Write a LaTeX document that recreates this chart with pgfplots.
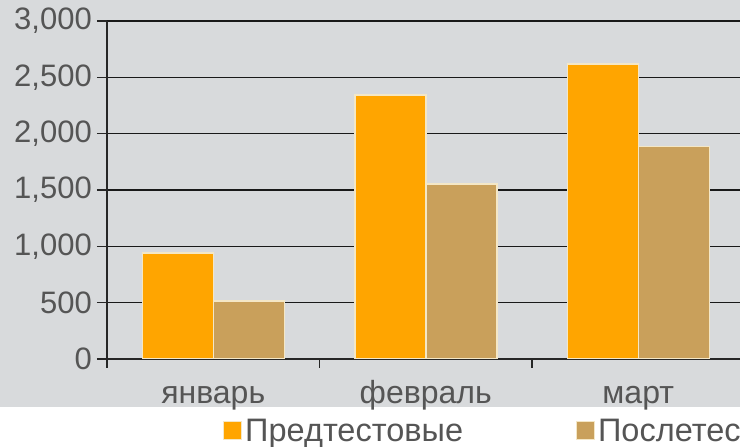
\documentclass[border=0pt]{standalone}
\usepackage{pgfplots}
\pgfplotsset{compat=1.18}
\usepackage{fontspec}
\setmainfont{Liberation Sans}
\definecolor{bg}{HTML}{D8DADC}
\definecolor{bOrange}{HTML}{FFA500}
\definecolor{bTan}{HTML}{C9A05B}
\definecolor{edge}{HTML}{F4E7C6}
\definecolor{txt}{HTML}{555555}
\begin{document}
\begin{tikzpicture}[x=1pt,y=1pt]
\path[use as bounding box] (0,0) rectangle (740,447);
\fill[white] (0,0) rectangle (740,447);
\fill[bg] (0,40) rectangle (740,447);
\begin{scope}
\clip (0,0) rectangle (740,447);
\begin{axis}[
  at={(107pt,88pt)}, anchor=south west,
  width=637.5pt, height=338pt, scale only axis,
  xmin=-0.5, xmax=2.5, ymin=0, ymax=3000,
  axis x line*=bottom, axis y line*=left,
  axis line style={-, draw=black!85, line width=1.5pt},
  ybar=0pt, bar width=71pt,
  ytick={0,500,...,3000}, ymajorgrids,
  grid style={black!90, line width=1.5pt},
  scaled y ticks=false,
  tick align=outside, major tick length=10pt,
  ytick style={draw=black!85, line width=1.5pt},
  yticklabel style={font=\fontsize{31}{36}\selectfont, text=txt, inner sep=0pt, xshift=-5pt,
    /pgf/number format/1000 sep={,}, /pgf/number format/assume math mode=true},
  xtick={0,1,2}, xticklabels={январь,февраль,март},
  xtick style={draw=none},
  xticklabel style={font=\fontsize{32}{36}\selectfont, text=txt, inner sep=0pt, anchor=base, yshift=-35pt},
  extra x ticks={-0.5,0.5,1.5,2.5}, extra x tick labels={},
  extra x tick style={xtick style={draw=black!85, line width=1.5pt}, major tick length=9pt},
  legend style={at={(axis description cs:0.182,-0.213)}, anchor=west, draw=none, fill=none,
    legend columns=2, font=\fontsize{32.5}{36}\selectfont, text=txt, inner sep=0pt,
    /tikz/every even column/.append style={column sep=110pt},
    nodes={inner xsep=3pt, inner ysep=0pt}},
  legend image code/.code={\draw[#1, line width=1pt, draw=edge] (0pt,-9pt) rectangle (18pt,9pt);},
]
\addplot[fill=bOrange, draw=edge, line width=1.5pt] coordinates {(0,940) (1,2345) (2,2620)};
\addplot[fill=bTan, draw=edge, line width=1.5pt] coordinates {(0,515) (1,1555) (2,1885)};
\legend{Предтестовые, Послетес}
\end{axis}
\end{scope}
\end{tikzpicture}
\end{document}
